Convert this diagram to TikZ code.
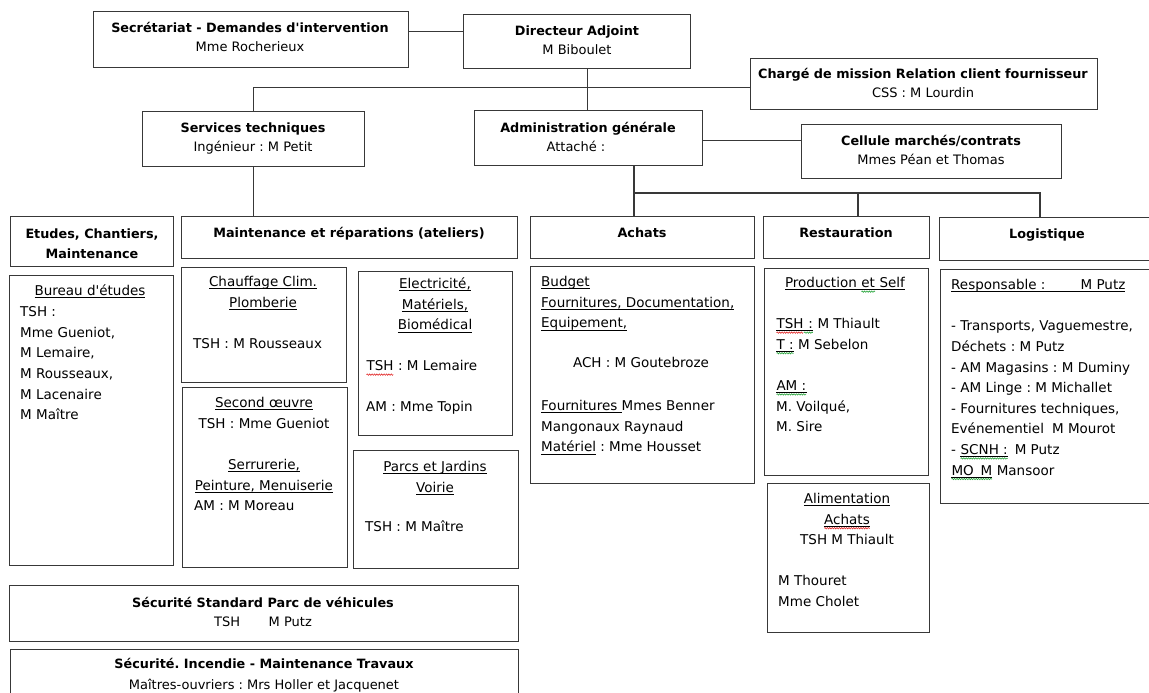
\documentclass[tikz,border=0pt]{standalone}
\usepackage{fontspec}
\setmainfont{DejaVu Sans}
\usetikzlibrary{decorations.pathmorphing}
\frenchspacing
\definecolor{ln}{gray}{0.22}
\definecolor{spred}{RGB}{225,40,40}
\definecolor{spgreen}{RGB}{40,165,60}
% straight underline at a fixed depth below the baseline
\newsavebox\ulbx
\newcommand\ul[1]{\sbox\ulbx{#1}\rlap{\rule[-2.6pt]{\wd\ulbx}{0.75pt}}\usebox\ulbx}
% wavy proofing mark under a word
\newcommand\wv[2]{\tikz[baseline=(wvw.base)]{\node[inner sep=0pt,outer sep=0pt] (wvw) {#2};
  \draw[#1, line width=0.6pt, decorate, decoration={snake, amplitude=0.7pt, segment length=2.4pt}]
    ([yshift=-4pt]wvw.base west) -- ([yshift=-4pt]wvw.base east);}}
\newcommand\B[1]{{\fontsize{12.8}{19}\selectfont\bfseries\strut #1}}
% box given by its corners: name, x1, y1, x2, y2
\newcommand\bx[5]{\node[box, minimum width={#4-#2}, minimum height={#5-#3}] (#1) at (#2,#3) {};}
\begin{document}
\begin{tikzpicture}[x=1pt, y=-1pt,
  box/.style={draw=ln, line width=1.1pt, inner sep=0pt, anchor=north west},
  ttl/.style={inner sep=0pt, align=center, anchor=north, font=\fontsize{13}{19}\selectfont},
  body/.style={inner sep=0pt, align=left, anchor=north west, font=\fontsize{13.5}{20.6}\selectfont},
  bodyc/.style={body, align=center, anchor=north},
  link/.style={draw=ln, line width=1.1pt}]
\useasboundingbox (0,0) rectangle (1149,693);

% boxes
\bx{secr}{93}{11}{408}{67}
\bx{dir}{463}{14}{690}{68}
\bx{charge}{750}{58}{1097}{109}
\bx{serv}{142}{111}{364}{166}
\bx{admin}{474}{110}{702}{165}
\bx{cell}{801}{124}{1061}{178}
\bx{etuh}{10}{216}{173}{266}
\bx{mainh}{181}{216}{517}{258}
\bx{achh}{530}{216}{754}{258}
\bx{resh}{763}{216}{929}{258}
\bx{logh}{939}{217}{1170}{260}
\bx{bureau}{9}{275}{173}{565}
\bx{chauf}{181}{267}{346}{382}
\bx{elec}{358}{271}{512}{435}
\bx{second}{182}{387}{347}{567}
\bx{parcs}{353}{450}{518}{568}
\bx{achb}{530}{266}{754}{483}
\bx{prod}{764}{268}{928}{475}
\bx{alim}{767}{483}{929}{632}
\bx{logb}{940}{269}{1170}{503}
\bx{secstd}{9}{585}{518}{641}
\bx{secinc}{10}{649}{518}{705}

% connectors
\draw[link] ([yshift=8pt]secr.east) -- ([yshift=8pt]secr.east -| dir.west);
\draw[link] ([xshift=10.5pt]dir.south) -- ([xshift=10.5pt]dir.south |- admin.north);
\draw[link] (serv.north) |- ([yshift=-3.5pt]charge.west);
\draw[link] (serv.south) -- (serv.south |- mainh.north);
\draw[link] ([yshift=-2.5pt]admin.east) -- ([yshift=-2.5pt]admin.east -| cell.west);
\coordinate (busL) at (634,193);
\coordinate (busM) at (858,193);
\coordinate (busR) at (1040,193);
\draw[link] (busL |- admin.south) -- (busL |- achh.north);
\draw[link] (busL) -- (busR) -- (busR |- logh.north);
\draw[link] (busM) -- (busM |- resh.north);

% headings
\node[ttl] (secrt) at (250,19) {\B{Secrétariat - Demandes d\textquotesingle intervention}\\Mme Rocherieux};
\node[ttl] (dirt) at (577,22) {\B{Directeur Adjoint}\\M Biboulet};
\node[ttl] (charget) at (923,65) {\B{Chargé de mission Relation client fournisseur}\\CSS : M Lourdin};
\node[ttl] (servt) at (253,119) {\B{Services techniques}\\Ingénieur : M Petit};
\node[ttl] (admint) at (588,119) {\B{Administration générale}\\Attaché :\hspace*{24pt}};
\node[ttl] (cellt) at (931,132) {\B{Cellule marchés/contrats}\\Mmes Péan et Thomas};
\node[ttl, font=\fontsize{13}{20}\selectfont] (etuht) at (92,225) {\B{Etudes, Chantiers,}\\\B{Maintenance}};
\node[ttl] (mainht) at (349,224) {\B{Maintenance et réparations (ateliers)}};
\node[ttl] (achht) at (642,224) {\B{Achats}};
\node[ttl] (resht) at (846,224) {\B{Restauration}};
\node[ttl] (loght) at (1047,225) {\B{Logistique}};
\node[ttl] (secstdt) at (263,594) {\B{Sécurité Standard Parc de véhicules}\\TSH\hspace{2.2em}M Putz};
\node[ttl, font=\fontsize{13}{20.5}\selectfont] (secinct) at (264,655) {\B{Sécurité. Incendie - Maintenance Travaux}\\Maîtres-ouvriers : Mrs Holler et Jacquenet};

% Etudes
\node[bodyc] (bureaut) at (90,281) {\strut\ul{Bureau d\textquotesingle études}};
\node[body] (bureaul) at (20,302) {\strut TSH :\\Mme Gueniot,\\M Lemaire,\\M Rousseaux,\\M Lacenaire\\M Maître};

% ateliers
\node[bodyc] (chauft) at (263,272) {\strut\ul{Chauffage Clim.}\\\ul{Plomberie}};
\node[body] (chaufl) at (193,334) {\strut TSH : M Rousseaux};
\node[bodyc] (secondt) at (264,393) {\strut\ul{Second œuvre}\\TSH : Mme Gueniot\\[20.6pt]\ul{Serrurerie,}\\\ul{Peinture, Menuiserie}};
\node[body] (secondl) at (194,496) {\strut AM : M Moreau};
\node[bodyc] (elect) at (435,274) {\strut\ul{Electricité,}\\\ul{Matériels,}\\\ul{Biomédical}};
\node[body] (elecl) at (366,356) {\strut\wv{spred}{TSH} : M Lemaire\\[20.6pt]AM : Mme Topin};
\node[bodyc] (parcst) at (435,457) {\strut\ul{Parcs et Jardins}\\\ul{Voirie}};
\node[body] (parcsl) at (365,517) {\strut TSH : M Maître};

% Achats
\node[body] (achbl) at (541,272) {\strut\ul{Budget}\\\ul{Fournitures, Documentation,}\\\ul{Equipement,}};
\node[bodyc] (achbc) at (641,353) {\strut ACH : M Goutebroze};
\node[body] (achbl2) at (541,396) {\strut\ul{Fournitures }Mmes Benner\\Mangonaux Raynaud\\\ul{Matériel} : Mme Housset};

% Restauration
\node[bodyc] (prodt) at (845,273) {\strut\ul{Production \wv{spgreen}{et} Self}};
\node[body] (prodl) at (776,314) {\strut\ul{\wv{spred}{TSH}\wv{spgreen}{\ :}} M Thiault\\\ul{\wv{spgreen}{T :}} M Sebelon\\[20.6pt]\ul{\wv{spgreen}{AM :}}\\M. Voilqué,\\M. Sire};
\node[bodyc] (alimt) at (847,489) {\strut\ul{Alimentation}\\\ul{\wv{spred}{Achats}}\\TSH M Thiault};
\node[body] (aliml) at (778,571) {\strut M Thouret\\Mme Cholet};

% Logistique
\node[body] (logl) at (951,275) {\strut\ul{Responsable :\hspace{2.6em}M Putz}\\[20.6pt]- Transports, Vaguemestre,\\Déchets : M Putz\\- AM Magasins : M Duminy\\- AM Linge : M Michallet\\- Fournitures techniques,\\Evénementiel\hspace{0.6em}M Mourot\\- \ul{\wv{spgreen}{SCNH :}}\hspace{0.5em}M Putz\\\ul{\wv{spgreen}{MO\hspace{0.5em}M}} Mansoor};
\end{tikzpicture}
\end{document}
